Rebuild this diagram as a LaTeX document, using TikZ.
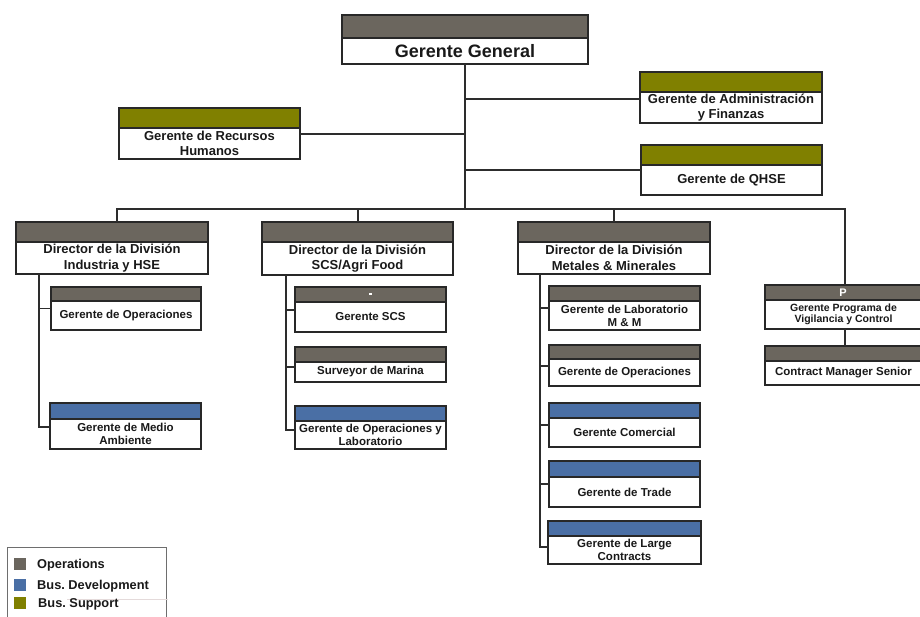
\documentclass[tikz,border=0pt]{standalone}
\usepackage{fontspec}
\setmainfont{Liberation Sans}
\frenchspacing
\definecolor{opgray}{RGB}{107,102,94}
\definecolor{devblue}{RGB}{74,111,165}
\definecolor{supolive}{RGB}{128,128,0}
\definecolor{boxdark}{RGB}{40,40,40}
\definecolor{linkgray}{RGB}{45,45,45}
\definecolor{txt}{RGB}{25,25,25}
\definecolor{legendgray}{RGB}{110,110,110}
\definecolor{faintline}{RGB}{228,218,218}

% #1 name, #2 left, #3 top, #4 right, #5 header bottom, #6 bottom,
% #7 header colour, #8 text, #9 text style
\newcommand\orgunit[9]{%
  \node[draw=boxdark, line width=1.2pt, fill=white, inner sep=0pt, outer sep=0pt,
        anchor=north west, minimum width={#4-#2}, minimum height={#6-#3}] (#1) at (#2,#3) {};
  \fill[#7] (#2,#3) rectangle (#4,#5);
  \draw[boxline] (#2,#5) -- (#4,#5);
  \draw[boxline] (#1.north west) rectangle (#1.south east);
  \node[#9] (#1-t) at ({(#2+#4)/2},{(#5+#6)/2}) {#8};
}

\begin{document}
\begin{tikzpicture}[x=1pt,y=-1pt,
  link/.style={draw=linkgray, line width=1.3pt},
  boxline/.style={draw=boxdark, line width=1.2pt},
  bigtitle/.style={font=\bfseries\fontsize{18}{20}\selectfont, align=center, text=txt, inner sep=0pt},
  ttl/.style={font=\bfseries\fontsize{13}{15.5}\selectfont, align=center, text=txt, inner sep=0pt},
  sub/.style={font=\bfseries\fontsize{11.5}{12.8}\selectfont, align=center, text=txt, inner sep=0pt},
  small/.style={font=\bfseries\fontsize{10.5}{11.5}\selectfont, align=center, text=txt, inner sep=0pt},
  keytext/.style={font=\bfseries\fontsize{12.8}{14}\selectfont, text=txt, inner sep=0pt, anchor=west},
  keysq/.style={inner sep=0pt, minimum size=12, anchor=north west},
]
\useasboundingbox[fill=white] (0,0) rectangle (920,617);

% top level
\orgunit{gg}{342}{15}{588}{38}{64}{opgray}{Gerente General}{bigtitle}
\orgunit{admin}{640}{72}{822}{92}{123}{supolive}{Gerente de Administración\\y Finanzas}{ttl}
\orgunit{qhse}{641}{145}{822}{165}{195}{supolive}{Gerente de QHSE}{ttl}
\orgunit{rrhh}{119}{108}{300}{128}{159}{supolive}{Gerente de Recursos\\Humanos}{ttl}

% divisions
\orgunit{div1}{16}{222}{208}{242}{274}{opgray}{Director de la División\\Industria y HSE}{ttl}
\orgunit{div2}{262}{222}{453}{242}{275}{opgray}{Director de la División\\SCS/Agri Food}{ttl}
\orgunit{div3}{518}{222}{710}{242}{274}{opgray}{Director de la División\\Metales \& Minerales}{ttl}
\orgunit{pgm}{765}{285}{922}{300}{329}{opgray}{Gerente Programa de\\Vigilancia y Control}{small}
\node[font=\bfseries\fontsize{11}{12}\selectfont, text=white, inner sep=0pt] (pgm-p) at (843,292.5) {P};
\orgunit{cms}{765}{346}{922}{361}{385}{opgray}{Contract Manager Senior}{sub}

% Industria y HSE
\orgunit{op1}{51}{287}{201}{301}{330}{opgray}{Gerente de Operaciones}{sub}
\orgunit{medio}{50}{403}{201}{419}{449}{devblue}{Gerente de Medio\\Ambiente}{sub}

% SCS / Agri Food
\orgunit{scs}{295}{287}{446}{302}{332}{opgray}{Gerente SCS}{sub}
\fill[white] (369,293) rectangle (372,295.5);
\orgunit{surv}{295}{347}{446}{362}{382}{opgray}{Surveyor de Marina}{sub}
\orgunit{oplab}{295}{406}{446}{421}{449}{devblue}{Gerente de Operaciones y\\Laboratorio}{sub}

% Metales & Minerales
\orgunit{labmm}{549}{286}{700}{301}{330}{opgray}{Gerente de Laboratorio\\M \& M}{sub}
\orgunit{op3}{549}{345}{700}{359}{386}{opgray}{Gerente de Operaciones}{sub}
\orgunit{com}{549}{403}{700}{418}{447}{devblue}{Gerente Comercial}{sub}
\orgunit{trade}{549}{461}{700}{477}{507}{devblue}{Gerente de Trade}{sub}
\orgunit{large}{548}{521}{701}{536}{564}{devblue}{Gerente de Large\\Contracts}{sub}

% connectors
\coordinate (bus) at (465,209);
\draw[link] (gg.south) -- (bus);
\draw[link] ([yshift=-1.5pt]admin.west) -- ([yshift=-1.5pt]admin.west -| gg.south);
\draw[link] (qhse.west) -- (qhse.west -| gg.south);
\draw[link] ([yshift=-0.5pt]rrhh.east) -- ([yshift=-0.5pt]rrhh.east -| gg.south);
\draw[link] ([xshift=5pt]div1.north) |- (bus) -| ([xshift=1.5pt]pgm.north);
\draw[link] ([xshift=0.5pt]div2.north) -- ([xshift=0.5pt]div2.north |- bus);
\draw[link] (div3.north) -- (div3.north |- bus);
\draw[link] ([xshift=1.5pt]pgm.south) -- ([xshift=1.5pt]cms.north);

\coordinate (s1) at ([xshift=23pt]div1.south west);
\draw[link] (s1) |- ([yshift=-1pt]medio.west);
\draw[link] (op1.west) -- (op1.west -| s1);

\coordinate (s2) at ([xshift=24pt]div2.south west);
\draw[link] (s2) |- ([yshift=-2.5pt]oplab.west);
\draw[link] ([yshift=-0.5pt]scs.west) -- ([yshift=-0.5pt]scs.west -| s2);
\draw[link] ([yshift=-2.5pt]surv.west) -- ([yshift=-2.5pt]surv.west -| s2);

\coordinate (s3) at ([xshift=22pt]div3.south west);
\draw[link] (s3) |- ([yshift=-4.5pt]large.west);
\draw[link] (labmm.west) -- (labmm.west -| s3);
\draw[link] ([yshift=-0.5pt]op3.west) -- ([yshift=-0.5pt]op3.west -| s3);
\draw[link] (com.west) -- (com.west -| s3);
\draw[link] (trade.west) -- (trade.west -| s3);

% legend
\node[draw=legendgray, line width=0.8pt, inner sep=0pt, anchor=north west,
      minimum width=159, minimum height=80] (legend) at (7,547) {};
\draw[faintline, line width=0.8pt] (67,599.5) -- (168,599.5);
\node[keysq, fill=opgray] (key1) at (14,558) {};
\node[keysq, fill=devblue] (key2) at (14,579) {};
\node[keysq, fill=supolive] (key3) at (14,597) {};
\node[keytext] (key1-t) at (37,565) {Operations};
\node[keytext] (key2-t) at (37,586.5) {Bus. Development};
\node[keytext] (key3-t) at (38,604) {Bus. Support};
\end{tikzpicture}
\end{document}
